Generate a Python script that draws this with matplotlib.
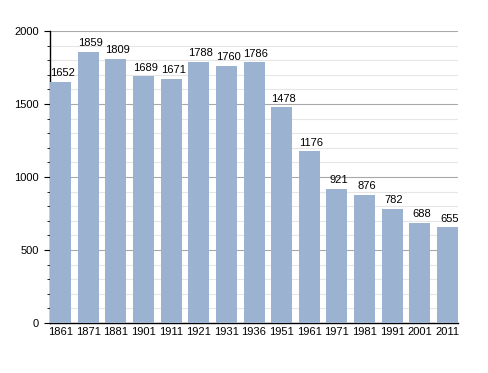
import matplotlib
matplotlib.use("Agg")
import matplotlib.pyplot as plt
import matplotlib.transforms as mtransforms
from matplotlib.ticker import MultipleLocator

plt.rcParams['font.family'] = ['Liberation Sans', 'DejaVu Sans']

# population par recensement
annees = ['1861', '1871', '1881', '1901', '1911', '1921', '1931', '1936',
          '1951', '1961', '1971', '1981', '1991', '2001', '2011']
population = [1652, 1859, 1809, 1689, 1671, 1788, 1760, 1786,
              1478, 1176, 921, 876, 782, 688, 655]

fig = plt.figure(figsize=(4.88, 3.73), dpi=100)
ax = fig.add_axes([0.1025, 0.134, 0.836, 0.783])

x = range(len(annees))
largeur = 0.76
ax.bar(x, population, width=largeur, color='#9bb3d0', zorder=3)

# les etiquettes sont un peu decalees vers la droite
decal = mtransforms.ScaledTranslation(2 / 100, 0, fig.dpi_scale_trans)
for i, v in zip(x, population):
    ax.text(i, v + 25, str(v), ha='center', va='bottom', fontsize=8, zorder=4,
            transform=ax.transData + decal)

ax.set_xlim(-largeur / 2, len(annees) - 1 + largeur / 2)
ax.set_ylim(0, 2000)
ax.set_xticks(list(x))
ax.set_xticklabels(annees)
decal_g = mtransforms.ScaledTranslation(-2 / 100, 0, fig.dpi_scale_trans)
for lab in ax.get_xticklabels():
    lab.set_transform(lab.get_transform() + decal_g)

ax.yaxis.set_major_locator(MultipleLocator(500))
ax.yaxis.set_minor_locator(MultipleLocator(100))
ax.grid(axis='y', which='major', color='#a8a8a8', linewidth=0.8, zorder=1)
ax.grid(axis='y', which='minor', color='#e6e6e6', linewidth=0.8, zorder=1)

for s in ['top', 'right']:
    ax.spines[s].set_visible(False)
ax.spines['left'].set_linewidth(1.0)
ax.spines['bottom'].set_linewidth(1.0)
ax.tick_params(axis='x', length=0, labelsize=8, pad=3)
ax.tick_params(axis='y', which='major', length=4, labelsize=8, pad=4)
ax.tick_params(axis='y', which='minor', length=2)

fig.savefig('out.png', dpi=100)
